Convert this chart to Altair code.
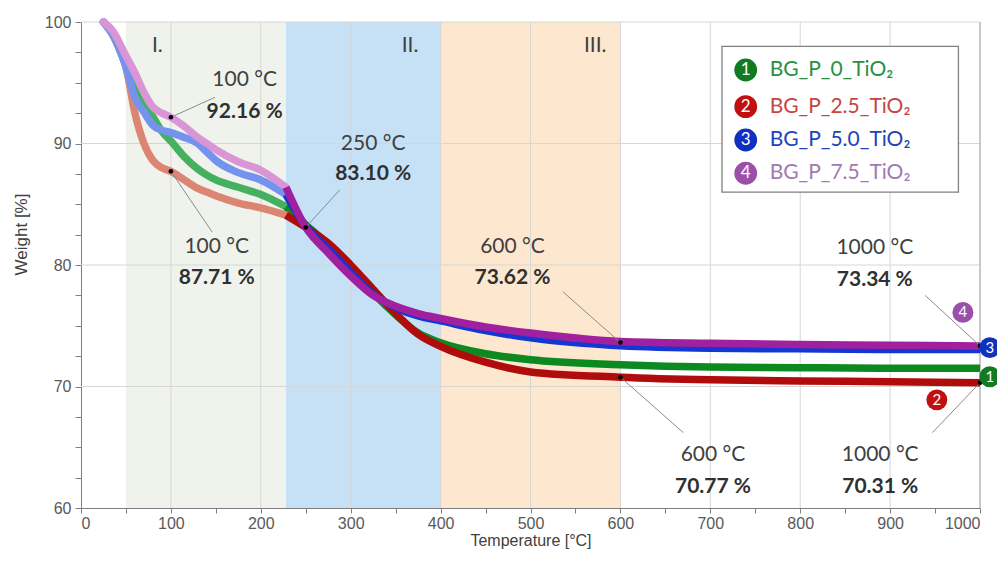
import altair as alt
import pandas as pd

# ---------------- data ----------------
temps = [25, 35, 50, 60, 70, 80, 90, 100, 115, 130, 140, 150, 175, 200, 228,
         250, 275, 300, 325, 350, 375, 400, 450, 500, 600, 700, 800, 900, 1000]
w_p0 = [100, 99.0, 96.5, 95.0, 93.4, 92.2, 91.0, 90.2, 88.9, 87.9, 87.4, 87.0, 86.4, 85.8, 84.8,
        83.3, 81.7, 79.8, 77.7, 75.9, 74.4, 73.6, 72.7, 72.2, 71.8, 71.6, 71.55, 71.5, 71.5]
w_p25 = [100, 99.0, 96.3, 92.5, 90.0, 88.6, 88.0, 87.71, 87.0, 86.3, 86.0, 85.7, 85.1, 84.7, 84.1,
         83.1, 81.8, 80.0, 78.0, 76.0, 74.3, 73.3, 72.0, 71.2, 70.77, 70.55, 70.45, 70.4, 70.31]
w_p50 = [100, 99.0, 96.3, 93.8, 92.6, 91.5, 91.1, 90.9, 90.5, 90.0, 89.3, 88.6, 87.6, 87.0, 85.8,
         83.2, 81.3, 79.4, 77.6, 76.5, 75.8, 75.4, 74.6, 74.0, 73.35, 73.15, 73.1, 73.05, 73.05]
w_p75 = [100, 99.3, 97.2, 95.8, 94.2, 93.0, 92.5, 92.16, 91.4, 90.5, 90.0, 89.5, 88.5, 87.8, 86.4,
         83.1, 81.0, 79.1, 77.5, 76.6, 76.0, 75.6, 74.9, 74.4, 73.7, 73.55, 73.45, 73.4, 73.34]

series_names = ["BG_P_0_TiO₂", "BG_P_2.5_TiO₂", "BG_P_5.0_TiO₂", "BG_P_7.5_TiO₂"]
series_nums = ["1", "2", "3", "4"]
series_weights = [w_p0, w_p25, w_p50, w_p75]
dark_colors = ["#0c8a1f", "#b00c0c", "#1436d2", "#a020a0"]
light_colors = ["#45b060", "#dc8574", "#7393ee", "#d995d6"]
text_colors = ["#2a9040", "#c84444", "#2244bb", "#a07ab0"]
badge_colors = ["#127a22", "#c01010", "#1030c0", "#9a50a8"]

region_start = [50, 228, 400]
region_end = [228, 400, 600]
region_colors = ["#eff3eb", "#c6e1f5", "#fde7cf"]
region_labels = ["I.", "II.", "III."]
region_label_x = [85, 366, 572]
region_label_y = [98.0, 98.0, 98.0]

ann_temp = [100, 100, 250, 600, 600, 1000, 1000]
ann_weight = [92.16, 87.71, 83.10, 73.62, 70.77, 73.34, 70.31]
ann_line1 = ["100 °C", "100 °C", "250 °C", "600 °C", "600 °C", "1000 °C", "1000 °C"]
ann_line2 = ["92.16 %", "87.71 %", "83.10 %", "73.62 %", "70.77 %", "73.34 %", "70.31 %"]
ann_text_x = [182, 151, 325, 480, 703, 883, 889]
ann_text_y1 = [95.2, 81.5, 90.0, 81.5, 64.4, 81.4, 64.4]
ann_text_y2 = [92.6, 78.9, 87.5, 78.9, 61.7, 78.8, 61.7]
ann_arrow_x = [149, 146, 288, 536, 670, 939, 947]
ann_arrow_y = [93.8, 82.7, 86.2, 77.8, 66.2, 77.5, 66.2]

badge_x = [1011, 952, 1011, 981]
badge_y = [70.8, 68.9, 73.2, 76.1]

legend_box = dict(x=713, x2=976, y=98.0, y2=86.0)
legend_circle_x = [739.4] * 4
legend_text_x = [766] * 4
legend_y = [96.05, 93.03, 90.29, 87.55]

x_grid = list(range(100, 1001, 100))
y_grid = [70, 80, 90, 100]

# ---------------- scales / axes ----------------
FONT_AX = "Liberation Sans"
FONT_TX = "Lato"
X_SCALE = alt.Scale(domain=[0, 1000], nice=False, zero=False)
Y_SCALE = alt.Scale(domain=[60, 100], nice=False, zero=False)
x_axis = alt.Axis(values=list(range(0, 1001, 50)),
                  labelExpr="datum.value % 100 == 0 ? format(datum.value, 'd') : ''",
                  grid=False, title="Temperature [°C]", titleFontSize=16,
                  titleFont=FONT_AX, titleFontWeight="normal", titleColor="#404040",
                  labelFont=FONT_AX, labelFontSize=16, labelColor="#595959",
                  domainColor="#7f7f7f", tickColor="#7f7f7f", tickSize=5,
                  labelPadding=2, titlePadding=1)
y_axis = alt.Axis(values=[60 + 2.5 * i for i in range(17)],
                  labelExpr="datum.value % 10 == 0 ? datum.label : ''",
                  grid=False, title="Weight [%]", titleFontSize=17,
                  titleFont=FONT_AX, titleFontWeight="normal", titleColor="#404040",
                  labelFont=FONT_AX, labelFontSize=16, labelColor="#595959",
                  domainColor="#7f7f7f", tickColor="#7f7f7f", tickSize=6,
                  labelPadding=4, titlePadding=14, titleY=212)


def X(field):
    return alt.X(f"{field}:Q", scale=X_SCALE, axis=x_axis)


def Y(field):
    return alt.Y(f"{field}:Q", scale=Y_SCALE, axis=y_axis)


layers = []

# shaded regions
reg_df = pd.DataFrame({"start": region_start, "end": region_end, "color": region_colors})
layers.append(alt.Chart(reg_df).mark_rect().encode(
    x=X("start"), x2="end", y=alt.Y(datum=60, scale=Y_SCALE, axis=y_axis), y2=alt.Y2(datum=100),
    color=alt.Color("color:N", scale=None)))

# grid lines
layers.append(alt.Chart(pd.DataFrame({"g": x_grid[:-1]})).mark_rule(color="#d6d6d6", strokeWidth=1).encode(
    x=X("g")))
layers.append(alt.Chart(pd.DataFrame({"g": y_grid})).mark_rule(color="#d6d6d6", strokeWidth=1).encode(
    y=Y("g")))
layers.append(alt.Chart(pd.DataFrame({"g": [1000]})).mark_rule(color="#a6a6a6", strokeWidth=1.2).encode(
    x=X("g")))

# roman labels
rom_df = pd.DataFrame({"x": region_label_x, "y": region_label_y, "t": region_labels})
layers.append(alt.Chart(rom_df).mark_text(font=FONT_TX, fontSize=21, color="#404040").encode(
    x=X("x"), y=Y("y"), text="t:N"))

# series lines
for name, ws, lc, dc in zip(series_names, series_weights, light_colors, dark_colors):
    df = pd.DataFrame({"temp": temps, "w": ws})
    seg1 = df[df.temp <= 228]
    seg2 = df[df.temp >= 228]
    layers.append(alt.Chart(seg1).mark_line(color=lc, strokeWidth=7.5, interpolate="monotone",
                                            strokeCap="round", strokeJoin="round").encode(
        x=X("temp"), y=Y("w")))
    layers.append(alt.Chart(seg2).mark_line(color=dc, strokeWidth=7.5, interpolate="monotone",
                                            strokeCap="butt", strokeJoin="round").encode(
        x=X("temp"), y=Y("w")))

# annotations
ann_df = pd.DataFrame({"t": ann_temp, "w": ann_weight, "l1": ann_line1, "l2": ann_line2,
                       "tx": ann_text_x, "ty1": ann_text_y1, "ty2": ann_text_y2,
                       "ax": ann_arrow_x, "ay": ann_arrow_y})
layers.append(alt.Chart(ann_df).mark_rule(color="#8c8c8c", strokeWidth=1).encode(
    x=X("t"), y=Y("w"), x2="ax", y2="ay"))
layers.append(alt.Chart(ann_df).mark_circle(color="black", opacity=1, size=22).encode(
    x=X("t"), y=Y("w")))
layers.append(alt.Chart(ann_df).mark_text(font=FONT_TX, fontSize=21, color="#404040").encode(
    x=X("tx"), y=Y("ty1"), text="l1:N"))
layers.append(alt.Chart(ann_df).mark_text(font=FONT_TX, fontSize=21, fontWeight="bold",
                                          color="#303030").encode(
    x=X("tx"), y=Y("ty2"), text="l2:N"))

# end badges
badge_df = pd.DataFrame({"x": badge_x, "y": badge_y, "n": series_nums, "c": badge_colors})
layers.append(alt.Chart(badge_df).mark_circle(opacity=1, size=440).encode(
    x=X("x"), y=Y("y"), color=alt.Color("c:N", scale=None)))
layers.append(alt.Chart(badge_df).mark_text(font=FONT_TX, fontSize=15, color="white").encode(
    x=X("x"), y=Y("y"), text="n:N"))

# legend
box_df = pd.DataFrame([legend_box])
layers.append(alt.Chart(box_df).mark_rect(fill="white", stroke="#7f7f7f", strokeWidth=1.3).encode(
    x=X("x"), x2="x2", y=Y("y"), y2="y2"))
leg_df = pd.DataFrame({"cx": legend_circle_x, "tx": legend_text_x, "y": legend_y,
                       "n": series_nums, "name": series_names, "c": badge_colors,
                       "tc": text_colors})
layers.append(alt.Chart(leg_df).mark_circle(opacity=1, size=520).encode(
    x=X("cx"), y=Y("y"), color=alt.Color("c:N", scale=None)))
layers.append(alt.Chart(leg_df).mark_text(font=FONT_TX, fontSize=17, color="white").encode(
    x=X("cx"), y=Y("y"), text="n:N"))
layers.append(alt.Chart(leg_df).mark_text(font=FONT_TX, fontSize=21, align="left").encode(
    x=X("tx"), y=Y("y"), text="name:N", color=alt.Color("tc:N", scale=None)))

chart = alt.layer(*layers).properties(
    width=899, height=486,
    padding={"left": 73, "top": 14, "right": 17, "bottom": 47},
    autosize=alt.AutoSizeParams(type="none"),
    background="white",
).configure_view(stroke=None)

chart.save("out.html", embed_options={"renderer": "svg", "actions": False})
